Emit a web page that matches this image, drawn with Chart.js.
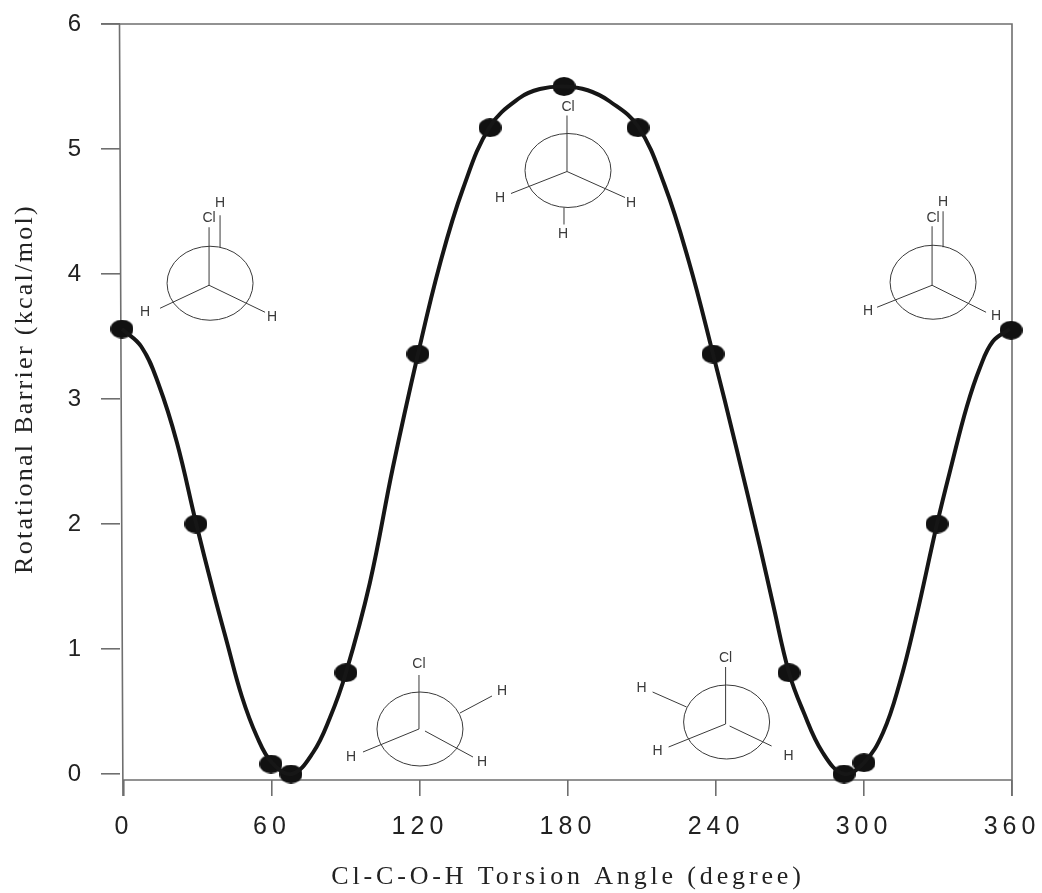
<!DOCTYPE html>
<html>
<head>
<meta charset="utf-8">
<style>
  body { margin: 0; background: #fff; }
  canvas { display: block; }
</style>
<script src="https://cdn.jsdelivr.net/npm/chart.js@4"></script>
</head>
<body>
<canvas id="barrierChart" width="1042" height="893"></canvas>
<script>
// calculated points (filled ovals)
const pointAngles = [-0.8, 29.2, 59.6, 67.7, 90, 119.2, 148.4, 178.4, 208.4, 238.8, 269.6, 291.9, 300, 329.6, 359.6];
const pointBarrier = [3.56, 2.0, 0.08, 0, 0.81, 3.36, 5.17, 5.5, 5.17, 3.36, 0.81, 0, 0.09, 2.0, 3.55];

// fitted curve
const curveAngles = [-0.8, 7, 14, 21.5, 29.2, 36.1, 41.8, 47.8, 53.9, 60, 68, 76.6, 83.5, 90, 99.7, 109, 119.2, 128.1, 137.4, 148.4, 160.5, 168.6, 178.4, 188, 197, 208.4, 219, 229, 238.8, 248, 257.8, 263.1, 269.6, 275.2, 283.3, 291.9, 300, 307.7, 314.5, 321, 329.6, 335.6, 341.7, 347, 352.2, 359.1];
const curveBarrier = [3.56, 3.42, 3.12, 2.65, 2.01, 1.47, 1.05, 0.62, 0.3, 0.09, 0, 0.17, 0.45, 0.81, 1.53, 2.45, 3.36, 4.08, 4.68, 5.18, 5.41, 5.48, 5.5, 5.47, 5.38, 5.18, 4.72, 4.1, 3.36, 2.63, 1.82, 1.36, 0.81, 0.51, 0.17, 0, 0.09, 0.33, 0.73, 1.24, 2.0, 2.48, 2.94, 3.25, 3.46, 3.56];

const xTicks = [0, 60, 120, 180, 240, 300, 360];
const yTicks = [0, 1, 2, 3, 4, 5, 6];

const xTitle = "Cl-C-O-H Torsion Angle (degree)";
const yTitle = "Rotational Barrier (kcal/mol)";

// newman projections: anchor in data units, everything else px offset from the anchor
const newmans = [
    {
        at: [34.5, 3.91], circle: [1, -2, 43, 37],
        bonds: [[0, 0, 0, -58], [11, -38, 11, -70], [0, 0, -49, 23], [0, 0, 56, 27]],
        labels: [["Cl", 0, -67], ["H", 11, -82], ["H", -64, 27], ["H", 63, 32]]
    },
    {
        at: [119.6, 0.36], circle: [1, 0, 43, 37],
        bonds: [[0, 0, 0, -54], [41, -16, 73, -33], [0, 0, -56, 23], [6, 2, 54, 28]],
        labels: [["Cl", 0, -65], ["H", 83, -38], ["H", -68, 28], ["H", 63, 33]]
    },
    {
        at: [243.9, 0.40], circle: [1, -2, 43, 37],
        bonds: [[0, 0, 0, -57], [-39, -17, -73, -32], [0, 0, -57, 23], [4, 2, 46, 22]],
        labels: [["Cl", 0, -66], ["H", -84, -36], ["H", -68, 27], ["H", 63, 32]]
    },
    {
        at: [179.6, 4.82], circle: [1, -1, 43, 37],
        bonds: [[0, 0, 0, -56], [-3, 36, -3, 53], [0, 0, -56, 22], [0, 0, 58, 26]],
        labels: [["Cl", 1, -64], ["H", -4, 63], ["H", -67, 27], ["H", 64, 32]]
    },
    {
        at: [327.6, 3.91], circle: [1, -3, 43, 37],
        bonds: [[0, 0, 0, -59], [11, -38, 11, -74], [0, 0, -55, 22], [0, 0, 54, 27]],
        labels: [["Cl", 1, -67], ["H", 11, -83], ["H", -64, 26], ["H", 64, 31]]
    }
];

const axisColor = "#6f6f6f";
const inkColor = "#161616";

// oval marker, the scan is a bit squashed
function ovalMarker(w, h) {
    const c = document.createElement("canvas");
    c.width = w;
    c.height = h;
    const g = c.getContext("2d");
    g.fillStyle = "#111";
    g.beginPath();
    g.ellipse(w / 2, h / 2, w / 2, h / 2, 0, 0, Math.PI * 2);
    g.fill();
    return c;
}

// chart.js has no letter spacing option and the scan has wide axis text, so wrap the scale's draw calls
function spaceText(scale, labelSpacing, titleSpacing, dx, dy) {
    if (scale.spaced) return; // update runs more than once
    scale.spaced = true;
    const drawLabels = scale.drawLabels;
    const drawTitle = scale.drawTitle;
    scale.drawLabels = function (area) {
        this.ctx.letterSpacing = labelSpacing;
        drawLabels.call(this, area);
        this.ctx.letterSpacing = "0px";
    };
    scale.drawTitle = function () {
        this.ctx.save();
        this.ctx.letterSpacing = titleSpacing;
        this.ctx.translate(dx, dy);
        drawTitle.call(this);
        this.ctx.restore();
    };
}

// fixed box for the axis, tick label overhang must not push the plot area in
function fixBox(scale) {
    scale.paddingLeft = 0;
    scale.paddingRight = 0;
    scale.paddingTop = 0;
    scale.paddingBottom = 0;
}

// frame: the left line leans a little and runs down into the 0 tick
const frameLines = {
    id: "frameLines",
    beforeDatasetsDraw(chart) {
        const { ctx, chartArea: a, scales } = chart;
        const x0 = scales.x.getPixelForValue(0);
        ctx.save();
        ctx.strokeStyle = axisColor;
        ctx.lineWidth = 1.6;
        ctx.beginPath();
        ctx.moveTo(a.left - 19, a.top);
        ctx.lineTo(a.right, a.top);
        ctx.lineTo(a.right, a.bottom + 16);
        ctx.moveTo(a.left - 0.5, a.top);
        ctx.lineTo(x0 - 1, a.bottom + 16);
        ctx.moveTo(x0 - 1, a.bottom);
        ctx.lineTo(a.right, a.bottom);
        ctx.stroke();
        ctx.restore();
    }
};

const newmanPlugin = {
    id: "newmanPlugin",
    afterDatasetsDraw(chart) {
        const { ctx, scales } = chart;
        ctx.save();
        ctx.strokeStyle = "#3a3a3a";
        ctx.fillStyle = "#3a3a3a";
        ctx.lineWidth = 1;
        ctx.font = "14px 'Liberation Sans'";
        ctx.textAlign = "center";
        ctx.textBaseline = "middle";
        newmans.forEach(n => {
            const x0 = scales.x.getPixelForValue(n.at[0]);
            const y0 = scales.y.getPixelForValue(n.at[1]);
            ctx.beginPath();
            ctx.ellipse(x0 + n.circle[0], y0 + n.circle[1], n.circle[2], n.circle[3], 0, 0, Math.PI * 2);
            ctx.stroke();
            n.bonds.forEach(b => {
                ctx.beginPath();
                ctx.moveTo(x0 + b[0], y0 + b[1]);
                ctx.lineTo(x0 + b[2], y0 + b[3]);
                ctx.stroke();
            });
            n.labels.forEach(l => ctx.fillText(l[0], x0 + l[1], y0 + l[2]));
        });
        ctx.restore();
    }
};

new Chart(document.getElementById("barrierChart"), {
    type: "scatter",
    data: {
        datasets: [
            {
                label: "curve",
                data: curveAngles.map((a, i) => ({ x: a, y: curveBarrier[i] })),
                showLine: true,
                tension: 0.4,
                borderColor: inkColor,
                borderWidth: 4,
                pointRadius: 0,
                clip: false
            },
            {
                label: "points",
                data: pointAngles.map((a, i) => ({ x: a, y: pointBarrier[i] })),
                showLine: false,
                pointStyle: ovalMarker(23, 19),
                clip: false
            }
        ]
    },
    plugins: [frameLines, newmanPlugin],
    options: {
        responsive: false,
        animation: false,
        layout: { padding: { top: 24, right: 30, left: 0, bottom: 0 } },
        plugins: { legend: { display: false }, tooltip: { enabled: false } },
        scales: {
            x: {
                type: "linear",
                min: -1.6,
                max: 360,
                afterFit(s) { s.height = 113; fixBox(s); },
                afterBuildTicks(s) { s.ticks = xTicks.map(v => ({ value: v })); },
                afterUpdate(s) { spaceText(s, "5px", "3.85px", 2, 0); },
                grid: { drawOnChartArea: false, color: axisColor, lineWidth: 1.6, tickLength: 16 },
                border: { display: false },
                ticks: { color: "#222", font: { family: "'Liberation Sans'", size: 25 }, padding: 16, maxRotation: 0, autoSkip: false },
                title: { display: true, text: xTitle, color: "#222", font: { family: "'Liberation Serif'", size: 26 }, padding: { top: 10, bottom: 0 } }
            },
            y: {
                type: "linear",
                min: -0.048,
                max: 6,
                afterFit(s) { s.width = 120; fixBox(s); },
                afterBuildTicks(s) { s.ticks = yTicks.map(v => ({ value: v })); },
                afterUpdate(s) { spaceText(s, "0px", "2.3px", 0, -13); },
                grid: { drawOnChartArea: false, color: axisColor, lineWidth: 1.6, tickLength: 19 },
                border: { display: false },
                ticks: { color: "#222", font: { family: "'Liberation Sans'", size: 24 }, padding: 20 },
                title: { display: true, text: yTitle, color: "#222", font: { family: "'Liberation Serif'", size: 26 }, padding: { top: 10, bottom: 0 } }
            }
        }
    }
});
</script>
</body>
</html>
